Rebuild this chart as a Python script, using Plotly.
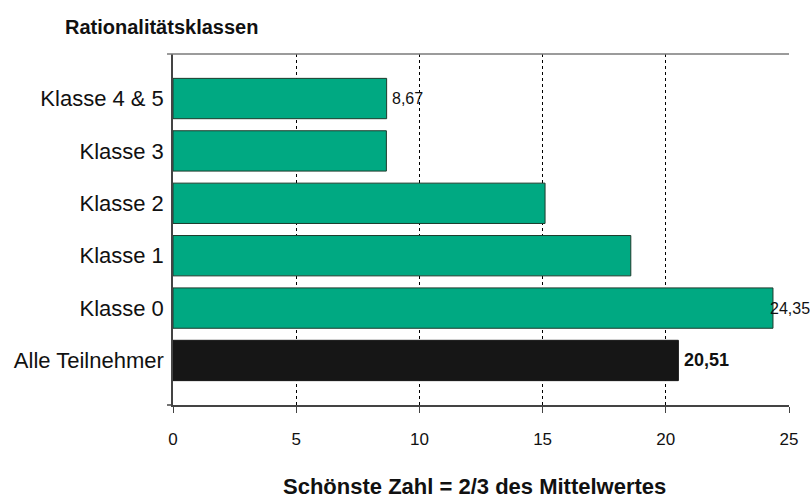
import plotly.graph_objects as go

categories = ["Klasse 4 & 5", "Klasse 3", "Klasse 2", "Klasse 1", "Klasse 0", "Alle Teilnehmer"]
values = [8.67, 8.66, 15.10, 18.58, 24.35, 20.51]
value_labels = ["8,67", "", "", "", "24,35", "20,51"]
label_bold = [False, False, False, False, False, True]
label_shift = [3, 0, 0, 0, -5, 4]
x_ticks = [0, 5, 10, 15, 20, 25]

GREEN = "#00A982"
BLACK = "#161616"
colors = [GREEN] * 5 + [BLACK]
line_colors = ["#1d3b2c"] * 5 + [BLACK]

SANS = "Liberation Sans, Arial, sans-serif"

fig = go.Figure()
fig.add_trace(go.Bar(
    y=categories, x=values, orientation="h",
    marker=dict(color=colors, line=dict(color=line_colors, width=1)),
    width=0.77, hoverinfo="skip",
))

annotations = []
for cat, v, lab, b, sh in zip(categories, values, value_labels, label_bold, label_shift):
    if not lab:
        continue
    annotations.append(dict(
        x=v, y=cat, xref="x", yref="y", text=f"<b>{lab}</b>" if b else lab,
        showarrow=False, xanchor="left", yanchor="middle", xshift=sh,
        font=dict(family=SANS, size=18 if b else 16, color="#111"),
    ))

plot_l, plot_r, plot_t, plot_b = 173, 791.5, 54, 405
pw = plot_r - plot_l
ph = plot_b - plot_t

annotations.append(dict(
    x=(63 - plot_l) / pw, y=1 + (plot_t - 27.5) / ph, xref="paper", yref="paper",
    text="<b>Rationalitätsklassen</b>", showarrow=False, xanchor="left", yanchor="middle",
    font=dict(family=SANS, size=20, color="#111"),
))
annotations.append(dict(
    x=(476 - plot_l) / pw, y=-(486 - plot_b) / ph, xref="paper", yref="paper",
    text="<b>Schönste Zahl = 2/3 des Mittelwertes</b>", showarrow=False,
    xanchor="center", yanchor="middle",
    font=dict(family=SANS, size=22, color="#111"),
))

ext = 6 / pw
shapes = [
    dict(type="line", xref="paper", yref="paper", x0=-ext, x1=1, y0=1, y1=1,
         line=dict(color="#7a7a7a", width=1.5)),
    dict(type="line", xref="paper", yref="paper", x0=-ext, x1=0, y0=0, y1=0,
         line=dict(color="#444", width=1.5)),
]

fig.update_layout(
    width=810, height=500,
    margin=dict(l=plot_l, r=810 - plot_r, t=plot_t, b=500 - plot_b),
    paper_bgcolor="white", plot_bgcolor="white",
    showlegend=False,
    annotations=annotations,
    shapes=shapes,
    xaxis=dict(
        range=[0, 25], tickvals=x_ticks, ticktext=[str(t) for t in x_ticks],
        showgrid=True, gridcolor="black", gridwidth=1, griddash="3px,3px",
        zeroline=False, showline=True, linecolor="#444", linewidth=1.5,
        ticks="outside", ticklen=6, tickcolor="#444",
        tickfont=dict(family=SANS, size=17, color="#111"),
        ticklabelstandoff=12, fixedrange=True,
    ),
    yaxis=dict(
        type="category", categoryorder="array", categoryarray=categories,
        range=[5.85, -0.85],
        showgrid=False, zeroline=False, showline=True, linecolor="#444", linewidth=1.5,
        ticks="", tickfont=dict(family=SANS, size=22, color="#111"),
        ticklabelstandoff=3, fixedrange=True,
    ),
)

fig.write_html("out.html", config={"displayModeBar": False},
               post_script="document.body.style.margin='0';document.body.style.overflow='hidden';")
